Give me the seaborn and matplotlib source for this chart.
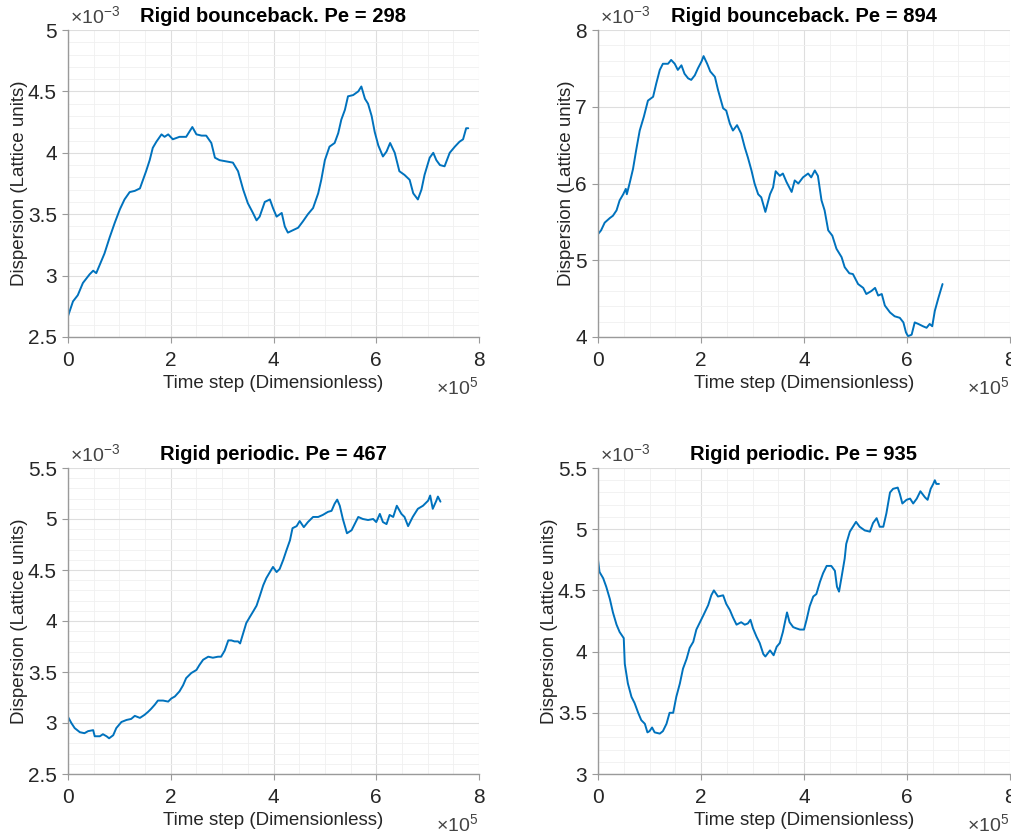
import numpy as np
import pandas as pd
import matplotlib
matplotlib.use("Agg")
import matplotlib.pyplot as plt
import seaborn as sns
from matplotlib.ticker import AutoMinorLocator, FuncFormatter, MultipleLocator

# ---------------- data (x in units of 1e5 steps, y in units of 1e-3) ----------------
titles = ["Rigid bounceback. Pe = 298", "Rigid bounceback. Pe = 894",
          "Rigid periodic. Pe = 467", "Rigid periodic. Pe = 935"]

x_bb298 = [0, .097, .19, .29, .42, .49, .55, .62, .71, .81, .91, 1.01, 1.10, 1.20, 1.30, 1.40,
           1.46, 1.52, 1.59, 1.65, 1.72, 1.82, 1.88, 1.95, 2.04, 2.17, 2.30, 2.42, 2.50, 2.60,
           2.69, 2.79, 2.86, 2.95, 3.08, 3.21, 3.31, 3.41, 3.50, 3.60, 3.67, 3.73, 3.83, 3.93,
           3.99, 4.06, 4.16, 4.22, 4.28, 4.38, 4.48, 4.57, 4.67, 4.77, 4.87, 4.93, 5.00, 5.09,
           5.19, 5.26, 5.32, 5.39, 5.45, 5.55, 5.65, 5.71, 5.78, 5.84, 5.91, 5.97, 6.04, 6.13,
           6.20, 6.27, 6.36, 6.45, 6.55, 6.65, 6.72, 6.81, 6.88, 6.94, 7.04, 7.11, 7.17, 7.24,
           7.33, 7.43, 7.53, 7.62, 7.69, 7.75, 7.79]
y_bb298 = [2.67, 2.79, 2.84, 2.94, 3.01, 3.04, 3.02, 3.09, 3.18, 3.31, 3.43, 3.54, 3.62, 3.68,
           3.69, 3.71, 3.78, 3.85, 3.94, 4.04, 4.09, 4.15, 4.13, 4.15, 4.11, 4.13, 4.13, 4.21,
           4.15, 4.14, 4.14, 4.08, 3.96, 3.94, 3.93, 3.92, 3.85, 3.70, 3.59, 3.51, 3.45, 3.48,
           3.60, 3.62, 3.55, 3.48, 3.51, 3.40, 3.35, 3.37, 3.39, 3.44, 3.50, 3.55, 3.67, 3.78,
           3.94, 4.05, 4.08, 4.16, 4.27, 4.35, 4.46, 4.47, 4.50, 4.54, 4.44, 4.40, 4.30, 4.17,
           4.06, 3.97, 4.01, 4.08, 4.00, 3.85, 3.82, 3.78, 3.67, 3.62, 3.70, 3.82, 3.96, 4.00,
           3.94, 3.90, 3.89, 4.00, 4.05, 4.09, 4.11, 4.20, 4.20]

x_bb894 = [0, .06, .13, .23, .29, .36, .42, .49, .54, .56, .62, .68, .74, .81, .89, .97, 1.07,
           1.13, 1.20, 1.26, 1.36, 1.42, 1.49, 1.55, 1.62, 1.68, 1.75, 1.81, 1.88, 1.94, 2.01,
           2.05, 2.12, 2.18, 2.27, 2.33, 2.43, 2.49, 2.56, 2.62, 2.70, 2.78, 2.85, 2.91, 2.98,
           3.04, 3.11, 3.17, 3.25, 3.34, 3.40, 3.45, 3.53, 3.59, 3.66, 3.76, 3.82, 3.89, 3.98,
           4.08, 4.14, 4.21, 4.27, 4.34, 4.40, 4.47, 4.55, 4.63, 4.73, 4.79, 4.88, 4.95, 5.05,
           5.15, 5.21, 5.31, 5.38, 5.44, 5.51, 5.57, 5.67, 5.76, 5.86, 5.93, 5.98, 6.02, 6.09,
           6.15, 6.22, 6.31, 6.38, 6.44, 6.49, 6.54, 6.61, 6.65, 6.69]
y_bb894 = [5.34, 5.39, 5.49, 5.55, 5.58, 5.65, 5.78, 5.86, 5.93, 5.86, 6.02, 6.19, 6.43, 6.69,
           6.87, 7.08, 7.13, 7.30, 7.48, 7.56, 7.56, 7.61, 7.56, 7.48, 7.54, 7.43, 7.37, 7.35,
           7.41, 7.50, 7.59, 7.66, 7.56, 7.46, 7.39, 7.22, 6.98, 6.95, 6.78, 6.69, 6.76, 6.65,
           6.47, 6.34, 6.17, 6.00, 5.86, 5.82, 5.63, 5.86, 5.95, 6.16, 6.10, 6.13, 6.02, 5.89,
           6.04, 6.00, 6.08, 6.13, 6.08, 6.17, 6.10, 5.78, 5.65, 5.39, 5.32, 5.15, 5.04, 4.91,
           4.83, 4.82, 4.69, 4.64, 4.56, 4.60, 4.64, 4.54, 4.56, 4.41, 4.32, 4.27, 4.25, 4.19,
           4.06, 4.01, 4.03, 4.19, 4.17, 4.14, 4.12, 4.17, 4.14, 4.34, 4.51, 4.60, 4.69]

x_pe467 = [0, .065, .13, .23, .32, .39, .49, .52, .62, .68, .75, .80, .88, .94, 1.04, 1.14,
           1.23, 1.30, 1.40, 1.49, 1.56, 1.62, 1.69, 1.75, 1.85, 1.95, 2.01, 2.08, 2.17, 2.24,
           2.30, 2.40, 2.50, 2.56, 2.63, 2.73, 2.82, 2.92, 2.98, 3.05, 3.12, 3.18, 3.24, 3.31,
           3.35, 3.41, 3.47, 3.54, 3.60, 3.67, 3.73, 3.80, 3.86, 3.93, 3.99, 4.06, 4.12, 4.19,
           4.25, 4.32, 4.37, 4.45, 4.51, 4.59, 4.67, 4.77, 4.87, 4.96, 5.06, 5.13, 5.19, 5.24,
           5.29, 5.35, 5.43, 5.52, 5.58, 5.65, 5.74, 5.84, 5.94, 6.00, 6.07, 6.13, 6.20, 6.26,
           6.33, 6.40, 6.49, 6.55, 6.62, 6.71, 6.81, 6.91, 7.01, 7.05, 7.10, 7.17, 7.20, 7.25]
y_pe467 = [3.06, 3.00, 2.95, 2.91, 2.90, 2.92, 2.93, 2.87, 2.87, 2.89, 2.87, 2.85, 2.88, 2.95,
           3.01, 3.03, 3.04, 3.07, 3.05, 3.08, 3.11, 3.14, 3.18, 3.22, 3.22, 3.21, 3.24, 3.26,
           3.31, 3.37, 3.44, 3.49, 3.52, 3.57, 3.62, 3.65, 3.64, 3.65, 3.65, 3.71, 3.81, 3.81,
           3.80, 3.80, 3.78, 3.88, 3.98, 4.04, 4.09, 4.15, 4.24, 4.35, 4.42, 4.48, 4.53, 4.48,
           4.51, 4.60, 4.69, 4.79, 4.91, 4.93, 4.98, 4.92, 4.97, 5.02, 5.02, 5.04, 5.07, 5.08,
           5.15, 5.19, 5.13, 5.00, 4.86, 4.89, 4.95, 5.02, 5.00, 4.99, 5.00, 4.97, 5.05, 4.97,
           4.95, 5.04, 5.02, 5.13, 5.05, 5.02, 4.93, 5.02, 5.10, 5.13, 5.18, 5.23, 5.10, 5.18,
           5.22, 5.17]

x_pe935 = [0, .03, .10, .16, .23, .29, .36, .42, .50, .52, .58, .65, .71, .78, .84, .91, .96,
           1.00, 1.05, 1.10, 1.20, 1.26, 1.33, 1.39, 1.46, 1.52, 1.59, 1.65, 1.72, 1.78, 1.85,
           1.91, 1.98, 2.05, 2.14, 2.20, 2.25, 2.33, 2.43, 2.49, 2.56, 2.62, 2.69, 2.78, 2.85,
           2.91, 2.96, 3.01, 3.08, 3.14, 3.21, 3.25, 3.34, 3.41, 3.47, 3.53, 3.59, 3.64, 3.67,
           3.72, 3.79, 3.85, 3.92, 4.00, 4.05, 4.11, 4.18, 4.24, 4.31, 4.37, 4.44, 4.53, 4.60,
           4.64, 4.68, 4.73, 4.79, 4.82, 4.89, 4.95, 5.01, 5.08, 5.18, 5.28, 5.34, 5.41, 5.47,
           5.54, 5.60, 5.67, 5.73, 5.82, 5.86, 5.91, 5.99, 6.06, 6.12, 6.19, 6.26, 6.35, 6.40,
           6.46, 6.51, 6.54, 6.57, 6.62]
y_pe935 = [4.75, 4.65, 4.60, 4.53, 4.43, 4.32, 4.22, 4.16, 4.11, 3.90, 3.74, 3.63, 3.58, 3.50,
           3.44, 3.41, 3.34, 3.35, 3.38, 3.34, 3.33, 3.35, 3.41, 3.50, 3.50, 3.63, 3.74, 3.86,
           3.94, 4.03, 4.08, 4.18, 4.24, 4.30, 4.38, 4.46, 4.50, 4.45, 4.46, 4.39, 4.34, 4.28,
           4.22, 4.24, 4.22, 4.23, 4.26, 4.19, 4.12, 4.07, 3.98, 3.96, 4.01, 3.97, 4.04, 4.07,
           4.16, 4.26, 4.32, 4.24, 4.20, 4.19, 4.18, 4.18, 4.26, 4.37, 4.45, 4.47, 4.57, 4.64,
           4.70, 4.70, 4.66, 4.53, 4.49, 4.61, 4.76, 4.88, 4.98, 5.02, 5.06, 5.02, 4.99, 4.98,
           5.05, 5.09, 5.02, 5.02, 5.13, 5.30, 5.33, 5.34, 5.29, 5.21, 5.24, 5.25, 5.21, 5.25,
           5.31, 5.26, 5.24, 5.33, 5.37, 5.40, 5.37, 5.37]

series_x = [x_bb298, x_bb894, x_pe467, x_pe935]
series_y = [y_bb298, y_bb894, y_pe467, y_pe935]
y_limits = [(2.5, 5.0), (4.0, 8.0), (2.5, 5.5), (3.0, 5.5)]
y_major = [0.5, 1.0, 0.5, 0.5]
x_ticks = [0, 2, 4, 6, 8]

xlabel = "Time step (Dimensionless)"
ylabel = "Dispersion (Lattice units)"

# ---------------- style ----------------
sns.set_theme(style="white")
plt.rcParams["font.family"] = ["Liberation Sans", "DejaVu Sans"]
plt.rcParams["mathtext.fontset"] = "custom"
plt.rcParams["mathtext.rm"] = "Liberation Sans"
plt.rcParams["mathtext.it"] = "Liberation Sans:italic"
plt.rcParams["mathtext.bf"] = "Liberation Sans:bold"

LINE = "#0072BD"
TXT = "#262626"
AX = "#9a9a9a"

fig = plt.figure(figsize=(10.12, 8.34), dpi=100)
W, H = 1012.0, 834.0
boxes = [(68, 30, 479, 337), (598, 30, 1010, 337),
         (68, 468, 479, 774), (598, 468, 1010, 774)]

fmt = FuncFormatter(lambda v, p: f"{v:g}")

for i in range(4):
    l, t, r, b = boxes[i]
    ax = fig.add_axes([l / W, 1 - b / H, (r - l) / W, (b - t) / H])
    df = pd.DataFrame({"x": series_x[i], "y": series_y[i]})
    sns.lineplot(data=df, x="x", y="y", ax=ax, color=LINE, linewidth=1.4,
                 sort=False, estimator=None)
    ax.set_xlim(0, 8)
    ax.set_ylim(*y_limits[i])
    ax.set_xticks(x_ticks)
    ax.yaxis.set_major_locator(MultipleLocator(y_major[i]))
    ax.xaxis.set_minor_locator(AutoMinorLocator(4))
    ax.yaxis.set_minor_locator(AutoMinorLocator(5))
    ax.xaxis.set_major_formatter(fmt)
    ax.yaxis.set_major_formatter(fmt)
    ax.set_axisbelow(True)
    ax.grid(which="major", color="#dedede", linewidth=0.8)
    ax.grid(which="minor", color="#f0f0f0", linewidth=0.6)
    for s in ["top", "right"]:
        ax.spines[s].set_visible(False)
    for s in ["left", "bottom"]:
        ax.spines[s].set_color(AX)
        ax.spines[s].set_linewidth(1.0)
    ax.tick_params(which="major", direction="out", length=4, width=0.8,
                   color=AX, labelsize=15, labelcolor=TXT, left=True, bottom=True)
    ax.tick_params(axis="x", pad=6)
    ax.tick_params(axis="y", pad=4)
    ax.tick_params(which="minor", length=0)
    ax.set_xlabel(xlabel, fontsize=13.5, color=TXT, labelpad=4)
    ax.set_ylabel(ylabel, fontsize=13.5, color=TXT, labelpad=0)
    hpx = b - t
    ax.text(0.5, 1 + 14 / hpx, titles[i], transform=ax.transAxes, ha="center",
            va="center", fontsize=14.5, fontweight="bold", color="black")
    ax.text(0.005, 1 + 14 / hpx, r"$\times10^{-3}$", transform=ax.transAxes,
            ha="left", va="center", fontsize=14, color="#444444")
    ax.text(0.998, -50 / hpx, r"$\times10^{5}$", transform=ax.transAxes,
            ha="right", va="center", fontsize=14, color="#444444")

fig.savefig("out.png", dpi=100, facecolor="white")
